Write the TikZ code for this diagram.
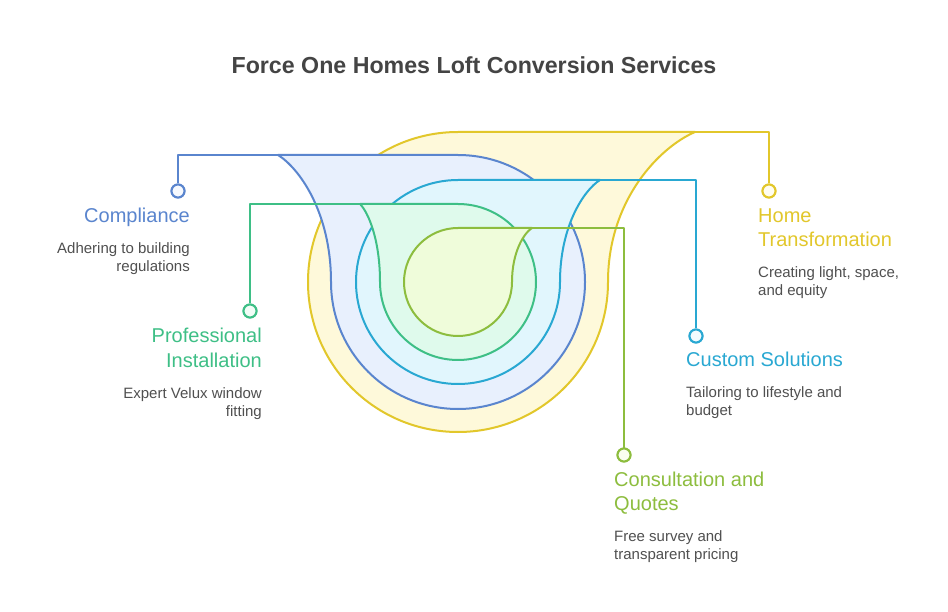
\documentclass[tikz,border=0pt]{standalone}
\usepackage{fontspec}
\setmainfont{Liberation Sans}
\definecolor{yelline}{HTML}{E2C72B}
\definecolor{yelfill}{HTML}{FEF9DA}
\definecolor{bluline}{HTML}{5A85CE}
\definecolor{blufill}{HTML}{E8F0FD}
\definecolor{cyaline}{HTML}{29A8D2}
\definecolor{cyafill}{HTML}{E1F6FD}
\definecolor{grnline}{HTML}{3EBF86}
\definecolor{grnfill}{HTML}{DFFAEC}
\definecolor{limline}{HTML}{8DBD3E}
\definecolor{limfill}{HTML}{EFFCDA}
\definecolor{titlegray}{HTML}{444444}
\definecolor{descgray}{HTML}{505050}
\tikzset{
  ring/.style={draw=#1line, fill=#1fill, line width=2pt, line join=round},
  conn/.style={draw=#1line, line width=2pt, line join=round},
  marker/.style={circle, draw=#1line, fill=#1fill!40!white, line width=2pt, minimum size=13pt, inner sep=0pt},
  headR/.style={anchor=base east, inner sep=0pt, text=#1line, font=\fontsize{20}{24}\selectfont},
  headL/.style={anchor=base west, inner sep=0pt, text=#1line, font=\fontsize{20}{24}\selectfont},
  descR/.style={anchor=base east, inner sep=0pt, text=descgray, font=\fontsize{15}{18}\selectfont},
  descL/.style={anchor=base west, inner sep=0pt, text=descgray, font=\fontsize{15}{18}\selectfont},
}
\begin{document}
\begin{tikzpicture}[x=1pt,y=-1pt]
\useasboundingbox (0,0) rectangle (948,612);
\fill[white] (0,0) rectangle (948,612);

% title
\node[anchor=base, inner sep=0pt, text=titlegray, font=\bfseries\fontsize{23.2}{28}\selectfont] (title) at (474,73.3) {Force One Homes Loft Conversion Services};

% named points
\coordinate (ys) at (695,132);
\coordinate (bs) at (278,155);
\coordinate (cs) at (600,180);
\coordinate (gs) at (360,204);
\coordinate (ls) at (532,228);

% markers positions
\node[marker=yel] (ym) at (769,191) {};
\node[marker=blu] (bm) at (178,191) {};
\node[marker=cya] (cm) at (696,336) {};
\node[marker=grn] (gm) at (250,311) {};
\node[marker=lim] (lm) at (624,455) {};

% yellow: Home Transformation
\path[ring=yel] (608,282) arc[start angle=0, end angle=-270, radius=150pt] -- (ys)
  .. controls (660,147) and (608,199.5) .. (608,282) -- cycle;
\draw[conn=yel] (ys) -- (ys -| ym) -- (ym);

% blue: Compliance
\path[ring=blu] (331,282) arc[start angle=180, end angle=450, radius=127pt] -- (bs)
  .. controls (299,168) and (331,212) .. (331,282) -- cycle;
\draw[conn=blu] (bs) -- (bs -| bm) -- (bm);

% cyan: Custom Solutions
\path[ring=cya] (560,282) arc[start angle=0, end angle=-270, radius=102pt] -- (cs)
  .. controls (584,190) and (560,226) .. (560,282) -- cycle;
\draw[conn=cya] (cs) -- (cs -| cm) -- (cm);

% green: Professional Installation
\path[ring=grn] (380,282) arc[start angle=180, end angle=450, radius=78pt] -- (gs)
  .. controls (368,212) and (380,239) .. (380,282) -- cycle;
\draw[conn=grn] (gs) -- (gs -| gm) -- (gm);

% lime: Consultation and Quotes
\path[ring=lim] (512,282) arc[start angle=0, end angle=-270, radius=54pt] -- (ls)
  .. controls (524,233) and (512,252) .. (512,282) -- cycle;
\draw[conn=lim] (ls) -- (ls -| lm) -- (lm);

% redraw markers on top
\node[marker=yel] at (ym) {};
\node[marker=blu] at (bm) {};
\node[marker=cya] at (cm) {};
\node[marker=grn] at (gm) {};
\node[marker=lim] at (lm) {};

% texts
\node[headR=blu] (t1) at (190,222.5) {Compliance};
\node[descR] (d1a) at (190,254) {Adhering to building};
\node[descR] (d1b) at (190,272) {regulations};

\node[headR=grn] (t2a) at (262,343) {Professional};
\node[headR=grn] (t2b) at (262,367) {Installation};
\node[descR] (d2a) at (262,398) {Expert Velux window};
\node[descR] (d2b) at (262,416) {fitting};

\node[headL=yel] (t3a) at (758,222.5) {Home};
\node[headL=yel] (t3b) at (758,246.5) {Transformation};
\node[descL] (d3a) at (758,278) {Creating light, space,};
\node[descL] (d3b) at (758,296) {and equity};

\node[headL=cya] (t4) at (686,366.5) {Custom Solutions};
\node[descL] (d4a) at (686,397) {Tailoring to lifestyle and};
\node[descL] (d4b) at (686,415) {budget};

\node[headL=lim] (t5a) at (614,486) {Consultation and};
\node[headL=lim] (t5b) at (614,510) {Quotes};
\node[descL] (d5a) at (614,541.5) {Free survey and};
\node[descL] (d5b) at (614,559.5) {transparent pricing};
\end{tikzpicture}
\end{document}
